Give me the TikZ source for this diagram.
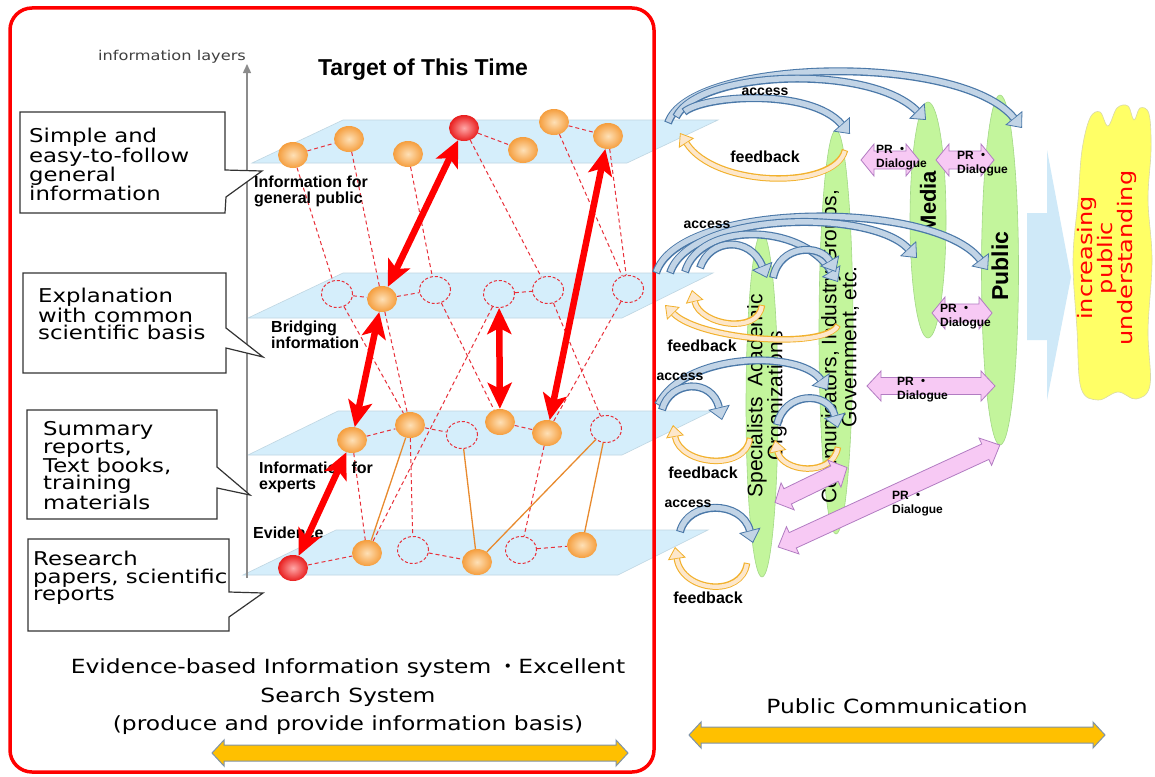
\documentclass[tikz,border=0pt]{standalone}
\usepackage{fontspec}
\setmainfont{Liberation Sans}
\newfontfamily\jfont[FakeStretch=1.2]{DejaVu Sans}
\newfontfamily\cjkfont{Noto Sans CJK JP}
\usetikzlibrary{arrows.meta,shapes.geometric}
\newcommand{\kd}{{\cjkfont ・}}
\newcommand{\myfs}[2]{\fontsize{#1}{#2}\selectfont}
\newcommand{\acc}[1]{\draw[accout] #1; \draw[accin] #1;}
\newcommand{\fbk}[1]{\draw[fbout] #1; \draw[fbin] #1;}
\definecolor{planefill}{HTML}{D5EEFB}
\definecolor{planeedge}{HTML}{BFD6E2}
\definecolor{orbin}{HTML}{FEE0B6}
\definecolor{orbout}{HTML}{F59E3E}
\definecolor{redin}{HTML}{FFA8A8}
\definecolor{redout}{HTML}{E81E1E}
\definecolor{dashred}{HTML}{E8303A}
\definecolor{orline}{HTML}{E88A2E}
\definecolor{accline}{HTML}{4A78A8}
\definecolor{accfill}{HTML}{C2D4E6}
\definecolor{fbline}{HTML}{F2B12C}
\definecolor{fbfill}{HTML}{FDE7CB}
\definecolor{greenfill}{HTML}{C3F59C}
\definecolor{greenedge}{HTML}{A3D886}
\definecolor{pinkfill}{HTML}{F7C9F4}
\definecolor{pinkedge}{HTML}{B27CC2}
\definecolor{goldfill}{HTML}{FFC000}
\definecolor{goldedge}{HTML}{7F93A8}
\definecolor{bluearr}{HTML}{CFE9F8}
\definecolor{cloudfill}{HTML}{FFFF66}
\definecolor{cloudedge}{HTML}{D9D9A6}
\tikzset{
  pics/dblarr/.style n args={5}{code={
    \filldraw[#5] (-#1/2,0) -- (-#1/2+#4,-#2/2) -- (-#1/2+#4,-#3/2) -- (#1/2-#4,-#3/2) -- (#1/2-#4,-#2/2) -- (#1/2,0)
      -- (#1/2-#4,#2/2) -- (#1/2-#4,#3/2) -- (-#1/2+#4,#3/2) -- (-#1/2+#4,#2/2) -- cycle;
  }}
}
\begin{document}
\begin{tikzpicture}[x=1pt,y=-1pt,
  plane/.style={fill=planefill, draw=planeedge, line width=0.6pt},
  orb/.style={ellipse, minimum width=30pt, minimum height=26pt, inner sep=0pt, inner color=orbin, outer color=orbout},
  redorb/.style={ellipse, minimum width=30pt, minimum height=26pt, inner sep=0pt, inner color=redin, outer color=redout},
  hol/.style={ellipse, draw=dashred, dash pattern=on 3pt off 2pt, line width=1pt, minimum width=31pt, minimum height=27pt, inner sep=0pt},
  dl/.style={draw=dashred, line width=1pt, dash pattern=on 4pt off 3pt},
  ol/.style={draw=orline, line width=1.3pt},
  bigarr/.style={line width=6.5pt, draw=red, arrows={Stealth[length=26pt,width=24pt,inset=6pt]-Stealth[length=26pt,width=24pt,inset=6pt]}},
  callout/.style={fill=white, draw=black!80, line width=1.2pt},
  ctext/.style={anchor=north west, inner sep=0pt, align=left, font=\jfont\myfs{19}{17.5}},
  layer/.style={anchor=north west, inner sep=0pt, align=left, font=\bfseries\myfs{16}{15.5}},
  grn/.style={ellipse, fill=greenfill, draw=greenedge, line width=0.6pt, inner sep=0pt},
  accout/.style={line width=8pt, draw=accline, arrows={-Triangle[length=13pt,width=22pt,fill=accfill,color=accline,line width=0.8pt]}},
  accin/.style={line width=5.5pt, draw=accfill, shorten >=13pt, shorten <=1pt},
  fbout/.style={line width=6.5pt, draw=fbline, arrows={-Triangle[length=12pt,width=18pt,fill=fbfill,color=fbline,line width=0.8pt]}},
  fbin/.style={line width=4.2pt, draw=fbfill, shorten >=12pt, shorten <=1pt},
  prstyle/.style={fill=pinkfill, draw=pinkedge, line width=0.8pt},
  goldstyle/.style={fill=goldfill, draw=goldedge, line width=1pt},
  acclab/.style={font=\bfseries\myfs{14}{14}, inner sep=0pt},
  fblab/.style={font=\bfseries\myfs{16}{16}, inner sep=0pt},
  prlab/.style={anchor=west, align=left, inner sep=0pt, font=\bfseries\myfs{12}{14}}
]
\useasboundingbox (0,0) rectangle (1155,776);
\fill[white] (0,0) rectangle (1155,776);

% planes
\path[plane] (252,163) -- (627,163) -- (718,120) -- (343,120) -- cycle;
\path[plane] (248,318) -- (622,318) -- (713,273) -- (343,273) -- cycle;
\path[plane] (248,455) -- (622,455) -- (712,411) -- (338,411) -- cycle;
\path[plane] (243,575) -- (618,575) -- (708,530) -- (336,530) -- cycle;

% axis
\coordinate (axb) at (247,578);
\coordinate (axt) at (247,64);
\draw[black!45, line width=1.4pt, -{Triangle[length=9pt,width=8pt]}] (axb) -- (axt);
\node[font=\jfont\myfs{13.5}{14}, text=black!75] (axl) at (172,57) {information layers};
\node[font=\bfseries\myfs{23}{24}] (target) at (423,70) {Target of This Time};

% red frame
\draw[red, line width=3.5pt, rounded corners=22pt] (10,8) rectangle (654,772);

% callouts
\draw[callout] (20,112) -- (225,112) -- (225,170) -- (262,171) -- (226,197) -- (225,213) -- (20,213) -- cycle;
\node[ctext] (c1) at (29,128) {Simple and\\easy-to-follow\\general\\information};
\draw[callout] (23,273) -- (226,273) -- (226,328) -- (263,357) -- (226,348) -- (226,373) -- (23,373) -- cycle;
\node[ctext] (c2) at (38,288) {Explanation\\with common\\scientific basis};
\draw[callout] (27,410) -- (217,410) -- (217,467) -- (250,495) -- (217,488) -- (217,519) -- (27,519) -- cycle;
\node[ctext, font=\jfont\myfs{19}{16.8}] (c3) at (43,421) {Summary\\reports,\\Text books,\\training\\materials};
\draw[callout] (28,539) -- (229,539) -- (229,592) -- (263,593) -- (229,617) -- (229,631) -- (28,631) -- cycle;
\node[ctext] (c4) at (33,551) {Research\\papers, scientific\\reports};

% information nodes
\node[orb] (A1) at (293,155) {};
\node[orb] (A2) at (349,139) {};
\node[orb] (A3) at (408,154) {};
\node[redorb] (A4) at (464,128) {};
\node[orb] (A5) at (523,150) {};
\node[orb] (A6) at (554,122) {};
\node[orb] (A7) at (608,136) {};
\node[hol] (B1) at (337,294) {};
\node[orb] (B2) at (382,299) {};
\node[hol] (B3) at (435,290) {};
\node[hol] (B4) at (499,294) {};
\node[hol] (B5) at (548,290) {};
\node[hol] (B6) at (628,289) {};
\node[orb] (C1) at (352,440) {};
\node[orb] (C2) at (410,425) {};
\node[hol] (C3) at (462,435) {};
\node[orb] (C4) at (500,422) {};
\node[orb] (C5) at (547,433) {};
\node[hol] (C6) at (606,429) {};
\node[redorb] (D1) at (293,568) {};
\node[orb] (D2) at (367,553) {};
\node[hol] (D3) at (413,550) {};
\node[orb] (D4) at (477,562) {};
\node[hol] (D5) at (521,550) {};
\node[orb] (D6) at (582,545) {};

% dashed links
\foreach \a/\b in {A1/A2,A4/A5,A6/A7,B1/B2,B2/B3,B4/B5,C1/C2,C2/C3,C4/C5,D1/D2,D3/D4,D5/D6,
  A1/B1,A2/B2,A3/B3,A4/B5,A6/B6,A7/B6,B1/C2,B2/C2,B3/C4,B4/D2,B5/C6,B6/C5,C1/D2,C2/D3,C5/D5}
  \draw[dl] (\a) -- (\b);
\foreach \a/\b in {C2/D2,C3/D4,C6/D4,C6/D6}
  \draw[ol] (\a) -- (\b);

% layer labels
\node[layer] (l1) at (254,176) {Information for\\general public};
\node[layer] (l2) at (271,321) {Bridging\\information};
\node[layer] (l3) at (259,462) {Information for\\experts};
\node[layer] (l4) at (253,527) {Evidence};

% red arrows
\draw[bigarr] (A4) -- (B2);
\draw[bigarr] (B2) -- (C1);
\draw[bigarr] (C1) -- (D1);
\draw[bigarr] (B4) -- (C4);
\draw[bigarr] (A7) -- (C5);

% right side actors
\node[grn, minimum width=32pt, minimum height=344pt] (spec) at (762,405) {};
\node[grn, minimum width=34pt, minimum height=404pt] (comm) at (836,332) {};
\node[grn, minimum width=36pt, minimum height=236pt] (media) at (928,220) {};
\node[grn, minimum width=37pt, minimum height=350pt] (public) at (1000,270) {};
\node[rotate=90, align=center, font=\myfs{21}{20}] (spect) at (767,396) {Specialists\enspace Academic\\Organizations};
\node[rotate=90, align=center, font=\myfs{21}{20}] (commt) at (840,347) {Communicators, Industry Groups,\\Government, etc.};
\node[rotate=90, font=\bfseries\myfs{22}{22}] (mediat) at (928,202) {Media};
\node[rotate=90, font=\bfseries\myfs{23}{23}] (publict) at (1000,266) {Public};

% access / feedback arrows, top layer
\coordinate (t3s) at (668,123); \coordinate (t3e) at (1022,128);
\coordinate (t2s) at (676,117); \coordinate (t2e) at (926,120);
\coordinate (t1s) at (684,112); \coordinate (t1e) at (850,134);
\acc{(t3s) .. controls (690,58) and (960,52) .. (t3e)}
\acc{(t2s) .. controls (700,70) and (870,64) .. (t2e)}
\acc{(t1s) .. controls (705,95) and (810,88) .. (t1e)}
\coordinate (tfs) at (845,150); \coordinate (tfe) at (680,133);
\fbk{(tfs) .. controls (835,190) and (715,188) .. (tfe)}
\node[acclab] (acc1) at (765,92) {access};
\node[fblab] (fb1) at (765,157) {feedback};

% middle layer
\coordinate (m4s) at (656,273); \coordinate (m4e) at (988,270);
\coordinate (m3s) at (670,273); \coordinate (m3e) at (917,258);
\coordinate (m2s) at (685,272); \coordinate (m2e) at (838,282);
\coordinate (m1s) at (700,268); \coordinate (m1e) at (767,278);
\coordinate (m5s) at (773,278); \coordinate (m5e) at (836,272);
\acc{(m4s) .. controls (680,200) and (935,200) .. (m4e)}
\acc{(m3s) .. controls (690,212) and (870,208) .. (m3e)}
\acc{(m2s) .. controls (700,222) and (800,222) .. (m2e)}
\acc{(m1s) .. controls (710,238) and (750,236) .. (m1e)}
\acc{(m5s) .. controls (780,244) and (820,244) .. (m5e)}
\coordinate (mf2s) at (838,325); \coordinate (mf2e) at (665,305);
\coordinate (mf1s) at (762,305); \coordinate (mf1e) at (692,290);
\fbk{(mf2s) .. controls (825,350) and (700,340) .. (mf2e)}
\fbk{(mf1s) .. controls (758,335) and (700,325) .. (mf1e)}
\node[acclab] (acc2) at (707,225) {access};
\node[fblab] (fb2) at (702,346) {feedback};

% lower layer
\coordinate (l2s) at (658,405); \coordinate (l2e) at (828,390);
\coordinate (l1s) at (662,410); \coordinate (l1e) at (722,420);
\coordinate (l3s) at (777,425); \coordinate (l3e) at (838,428);
\acc{(l2s) .. controls (685,352) and (800,350) .. (l2e)}
\acc{(l1s) .. controls (670,380) and (712,378) .. (l1e)}
\acc{(l3s) .. controls (784,392) and (828,390) .. (l3e)}
\coordinate (lf1s) at (750,438); \coordinate (lf1e) at (673,425);
\coordinate (lf2s) at (838,447); \coordinate (lf2e) at (775,440);
\fbk{(lf1s) .. controls (745,472) and (680,465) .. (lf1e)}
\fbk{(lf2s) .. controls (832,478) and (782,472) .. (lf2e)}
\node[acclab] (acc3) at (680,377) {access};
\node[fblab] (fb3) at (703,473) {feedback};

% evidence layer
\coordinate (b1s) at (680,532); \coordinate (b1e) at (753,543);
\acc{(b1s) .. controls (688,500) and (742,500) .. (b1e)}
\coordinate (bfs) at (747,563); \coordinate (bfe) at (675,547);
\fbk{(bfs) .. controls (742,598) and (682,592) .. (bfe)}
\node[acclab] (acc4) at (688,504) {access};
\node[fblab] (fb4) at (708,598) {feedback};

% PR dialogue arrows
\pic (p1) at (890,160) {dblarr={58}{32}{18}{13}{prstyle}};
\pic (p2) at (965,160) {dblarr={58}{32}{18}{13}{prstyle}};
\pic (p3) at (962,313) {dblarr={60}{32}{18}{13}{prstyle}};
\pic (p4) at (931,386) {dblarr={128}{30}{17}{14}{prstyle}};
\pic[rotate=25.9] (p5) at (811,485) {dblarr={80}{30}{17}{14}{prstyle}};
\pic[rotate=24.7] (p6) at (889,496) {dblarr={244}{30}{17}{16}{prstyle}};
\node[prlab] (pr1) at (876,158) {PR \kd\\Dialogue};
\node[prlab] (pr2) at (957,164) {PR \kd\\Dialogue};
\node[prlab] (pr3) at (940,317) {PR \kd\\Dialogue};
\node[prlab] (pr4) at (897,390) {PR \kd\\Dialogue};
\node[prlab] (pr6) at (892,504) {PR \kd\\Dialogue};

% big arrow and cloud
\fill[bluearr] (1027,213) -- (1047,213) -- (1047,150) -- (1071,277) -- (1047,400) -- (1047,340) -- (1027,340) -- cycle;
\draw[fill=cloudfill, draw=cloudedge, line width=0.6pt] plot[smooth cycle, tension=0.6] coordinates {(1082,150) (1090,118) (1100,112) (1108,126) (1117,108) (1128,106) (1134,120) (1140,108) (1149,114) (1151,150) (1148,200) (1152,260) (1148,330) (1150,385) (1136,399) (1118,392) (1098,400) (1081,388) (1077,330) (1073,260) (1078,200)};
\node[rotate=90, align=center, text=red, font=\jfont\myfs{20}{17.5}] (incr) at (1107,258) {increasing\\public\\understanding};

% bottom captions
\node[font=\jfont\myfs{19.5}{28.5}, align=center] (bt) at (348,697) {Evidence-based Information system \kd Excellent\\Search System\\(produce and provide information basis)};
\node[font=\jfont\myfs{19.5}{20}] (pc) at (897,706) {Public Communication};
\pic (g1) at (420,753) {dblarr={416}{26}{16}{12}{goldstyle}};
\pic (g2) at (897,735) {dblarr={416}{26}{16}{12}{goldstyle}};
\end{tikzpicture}
\end{document}
